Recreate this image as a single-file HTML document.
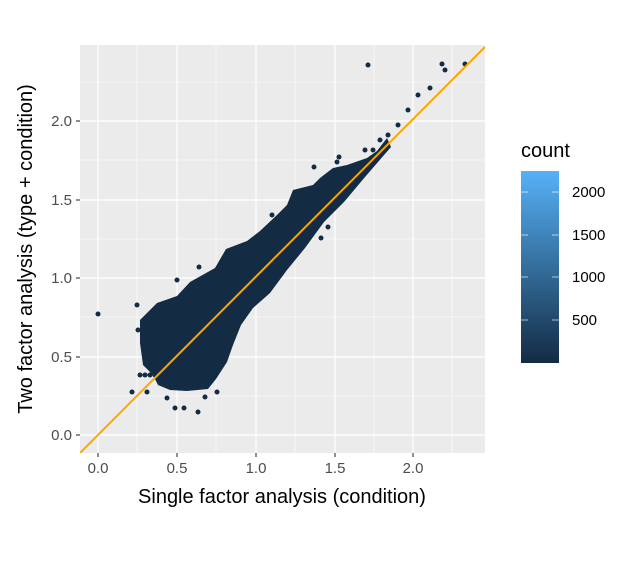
<!DOCTYPE html>
<html><head><style>body{margin:0;background:#fff}</style></head><body>
<svg width="640" height="560" xmlns="http://www.w3.org/2000/svg" font-family="Liberation Sans, sans-serif">
<defs><linearGradient id="g" x1="0" y1="1" x2="0" y2="0"><stop offset="0" stop-color="#132B43"/><stop offset="1" stop-color="#56B1F7"/></linearGradient>
<clipPath id="c"><rect x="80" y="45" width="405" height="408"/></clipPath></defs>
<rect x="80" y="45" width="405" height="408" fill="#EBEBEB"/>
<g stroke="#fff" stroke-width="0.6">
<line x1="80" x2="485" y1="396" y2="396"/><line x1="80" x2="485" y1="317" y2="317"/><line x1="80" x2="485" y1="239" y2="239"/><line x1="80" x2="485" y1="160" y2="160"/><line x1="80" x2="485" y1="82" y2="82"/>
<line y1="45" y2="453" x1="137" x2="137"/><line y1="45" y2="453" x1="216" x2="216"/><line y1="45" y2="453" x1="295" x2="295"/><line y1="45" y2="453" x1="374" x2="374"/><line y1="45" y2="453" x1="452" x2="452"/>
</g>
<g stroke="#fff" stroke-width="1.2">
<line x1="80" x2="485" y1="435" y2="435"/><line x1="80" x2="485" y1="357" y2="357"/><line x1="80" x2="485" y1="278" y2="278"/><line x1="80" x2="485" y1="200" y2="200"/><line x1="80" x2="485" y1="121" y2="121"/>
<line y1="45" y2="453" x1="98" x2="98"/><line y1="45" y2="453" x1="177" x2="177"/><line y1="45" y2="453" x1="256" x2="256"/><line y1="45" y2="453" x1="335" x2="335"/><line y1="45" y2="453" x1="413" x2="413"/>
</g>
<g fill="#132B43" clip-path="url(#c)">
<path d="M140,320 L157,303 L177,296 L190,282 L215,268 L226,249 L247,241 L260,231 L277,215 L287,205 L293,190 L313,185 L320,178 L333,168 L347,165 L367,158 L377,151 L387,138 L391,147 L365,177 L344,202 L324,222 L305,248 L287,270 L270,293 L253,308 L241,325 L233,345 L227,362 L216,379 L208,389 L187,391 L170,390 L158,385 L153,375 L143,365 L140,343 Z"/>
<circle cx="98" cy="314" r="2.5"/><circle cx="132" cy="392" r="2.5"/><circle cx="147" cy="392" r="2.5"/><circle cx="167" cy="398" r="2.5"/><circle cx="175" cy="408" r="2.5"/><circle cx="184" cy="408" r="2.5"/><circle cx="198" cy="412" r="2.5"/><circle cx="205" cy="397" r="2.5"/><circle cx="217" cy="392" r="2.5"/><circle cx="140" cy="375" r="2.5"/><circle cx="145" cy="375" r="2.5"/><circle cx="150" cy="375" r="2.5"/><circle cx="155" cy="375" r="2.5"/>
<circle cx="137" cy="305" r="2.5"/><circle cx="138" cy="330" r="2.5"/><circle cx="177" cy="280" r="2.5"/><circle cx="199" cy="267" r="2.5"/><circle cx="272" cy="215" r="2.5"/><circle cx="321" cy="238" r="2.5"/><circle cx="328" cy="227" r="2.5"/><circle cx="314" cy="167" r="2.5"/><circle cx="337" cy="162" r="2.5"/><circle cx="339" cy="157" r="2.5"/><circle cx="365" cy="150" r="2.5"/><circle cx="373" cy="150" r="2.5"/><circle cx="380" cy="140" r="2.5"/><circle cx="388" cy="135" r="2.5"/><circle cx="398" cy="125" r="2.5"/><circle cx="408" cy="110" r="2.5"/><circle cx="418" cy="95" r="2.5"/><circle cx="368" cy="65" r="2.5"/><circle cx="442" cy="64" r="2.5"/><circle cx="445" cy="70" r="2.5"/><circle cx="465" cy="64" r="2.5"/><circle cx="430" cy="88" r="2.5"/>
</g>
<line x1="80" y1="453" x2="485" y2="47" stroke="#FFA500" stroke-width="2" clip-path="url(#c)"/>
<g stroke="#333" stroke-width="1.1">
<line x1="76" x2="80" y1="435" y2="435"/><line x1="76" x2="80" y1="357" y2="357"/><line x1="76" x2="80" y1="278" y2="278"/><line x1="76" x2="80" y1="200" y2="200"/><line x1="76" x2="80" y1="121" y2="121"/>
<line y1="453" y2="457" x1="98" x2="98"/><line y1="453" y2="457" x1="177" x2="177"/><line y1="453" y2="457" x1="256" x2="256"/><line y1="453" y2="457" x1="335" x2="335"/><line y1="453" y2="457" x1="413" x2="413"/>
</g>
<g fill="#4D4D4D" font-size="15" text-anchor="end">
<text x="72" y="440">0.0</text><text x="72" y="362">0.5</text><text x="72" y="283">1.0</text><text x="72" y="205">1.5</text><text x="72" y="126">2.0</text>
</g>
<g fill="#4D4D4D" font-size="15" text-anchor="middle">
<text x="98" y="473">0.0</text><text x="177" y="473">0.5</text><text x="256" y="473">1.0</text><text x="335" y="473">1.5</text><text x="413" y="473">2.0</text>
</g>
<text x="282" y="503" font-size="20" text-anchor="middle">Single factor analysis (condition)</text>
<text transform="translate(32,249) rotate(-90)" font-size="20" text-anchor="middle">Two factor analysis (type + condition)</text>
<text x="521" y="157" font-size="20">count</text>
<rect x="521" y="171" width="38" height="192" fill="url(#g)"/>
<g stroke="#fff" stroke-width="0.8" opacity="0.8">
<line x1="521" x2="528" y1="192" y2="192"/><line x1="552" x2="559" y1="192" y2="192"/>
<line x1="521" x2="528" y1="235" y2="235"/><line x1="552" x2="559" y1="235" y2="235"/>
<line x1="521" x2="528" y1="277" y2="277"/><line x1="552" x2="559" y1="277" y2="277"/>
<line x1="521" x2="528" y1="320" y2="320"/><line x1="552" x2="559" y1="320" y2="320"/>
</g>
<g font-size="15" fill="#000">
<text x="572" y="197">2000</text><text x="572" y="240">1500</text><text x="572" y="282">1000</text><text x="572" y="325">500</text>
</g>
</svg>
</body></html>
